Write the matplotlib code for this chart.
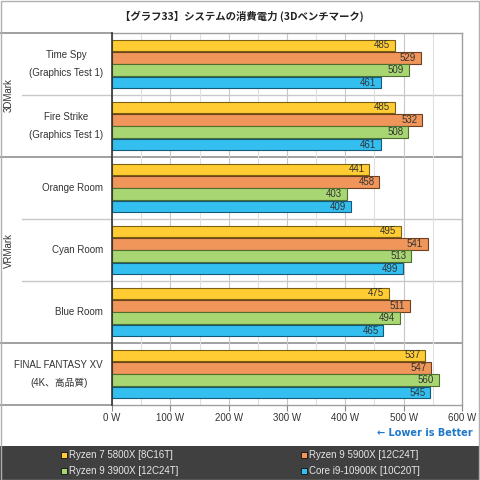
import matplotlib
matplotlib.use("Agg")
import matplotlib.pyplot as plt
from matplotlib.patches import Rectangle
from matplotlib.lines import Line2D
import matplotlib.transforms as mtransforms
import numpy as np

plt.rcParams['font.family'] = ['Liberation Sans', 'Noto Sans CJK JP', 'DejaVu Sans']

categories = ["Time Spy\n(Graphics Test 1)", "Fire Strike\n(Graphics Test 1)",
              "Orange Room", "Cyan Room", "Blue Room", "FINAL FANTASY XV\n(4K、高品質)"]
groups = ["3DMark", "VRMark", ""]
group_sizes = [2, 3, 1]
series_names = ["Ryzen 7 5800X [8C16T]", "Ryzen 9 5900X [12C24T]",
                "Ryzen 9 3900X [12C24T]", "Core i9-10900K [10C20T]"]
values = [
    [485, 485, 441, 495, 475, 537],
    [529, 532, 458, 541, 511, 547],
    [509, 508, 403, 513, 494, 560],
    [461, 461, 409, 499, 465, 545],
]
xticks = [0, 100, 200, 300, 400, 500, 600]
xticklabels = ["0 W", "100 W", "200 W", "300 W", "400 W", "500 W", "600 W"]

colors = ["#FFCC33", "#F0965A", "#A8D672", "#33BFF0"]
edges = ["#7a6010", "#6e3f20", "#4f6e30", "#145a78"]

W = 480
fig = plt.figure(figsize=(4.8, 4.8), dpi=100)
fig.patch.set_facecolor("white")

ax_left, ax_right, ax_top, ax_bot = 112, 462, 33, 405
ax = fig.add_axes([ax_left / W, 1 - ax_bot / W, (ax_right - ax_left) / W, (ax_bot - ax_top) / W])

n = len(categories)
bh = 0.2
offsets = [-0.3, -0.1, 0.1, 0.3]
y = np.arange(n)
for s in range(4):
    ax.barh(y + offsets[s], values[s], height=bh * 0.95, color=colors[s],
            edgecolor=edges[s], linewidth=0.8, zorder=3)
    for i, v in enumerate(values[s]):
        ax.text(v - 8, y[i] + offsets[s], str(v), ha="right", va="center",
                fontsize=7, color="#333333", zorder=4)

ax.set_ylim(n - 0.5, -0.5)
ax.set_xlim(0, 600)
ax.set_xticks(xticks)
ax.set_xticklabels(xticklabels, fontsize=7, color="#333333")
ax.set_xticks(np.arange(50, 600, 100), minor=True)
ax.grid(axis="x", which="major", color="#c8c8c8", linewidth=0.8, zorder=0)
ax.grid(axis="x", which="minor", color="#e0e0e0", linewidth=0.8, zorder=0)
ax.tick_params(axis="x", which="major", length=4, color="#888888", pad=1.5)
ax.tick_params(axis="x", which="minor", length=0)
ax.set_yticks([])
for sp in ["top", "right", "bottom"]:
    ax.spines[sp].set_color("#a0a0a0")
    ax.spines[sp].set_linewidth(1)
ax.spines["left"].set_color("#333333")
ax.spines["left"].set_linewidth(1.2)
ax.spines["left"].set_zorder(5)

# category separators and labels
trans = mtransforms.blended_transform_factory(fig.transFigure, ax.transData)
bounds = np.cumsum(group_sizes)
for k in range(1, n):
    if k in bounds:
        x0 = 0
        col = "#909090"
        lw = 1.2
    else:
        x0 = 22 / W
        col = "#c8c8c8"
        lw = 1
    ax.add_line(Line2D([x0, ax_right / W], [k - 0.5, k - 0.5], transform=trans,
                       color=col, linewidth=lw, clip_on=False, zorder=1))
ax.add_line(Line2D([0, ax_left / W], [-0.5, -0.5], transform=trans,
                   color="#909090", linewidth=1.2, clip_on=False))
ax.add_line(Line2D([0, ax_left / W], [n - 0.5, n - 0.5], transform=trans,
                   color="#909090", linewidth=1.2, clip_on=False))

for i, c in enumerate(categories):
    ax.text(103 / W, i, c, transform=trans, ha="right", va="center",
            multialignment="center", fontsize=7, color="#333333", linespacing=1.9)

start = 0
for g, sz in zip(groups, group_sizes):
    if g:
        ax.text(9 / W, start + (sz - 1) / 2, g, transform=trans, ha="center",
                va="center", rotation=90, fontsize=7, color="#333333")
    start += sz

fig.text(242 / W, 1 - 16 / W, "【グラフ33】システムの消費電力 (3Dベンチマーク)",
         ha="center", va="center", fontsize=7.5, fontweight="bold", color="#222222",
         family=['Noto Sans CJK JP', 'DejaVu Sans'])

fig.text(473 / W, 1 - 433 / W, "← Lower is Better", ha="right", va="center",
         fontsize=7, color="#1f78c8", fontweight="bold",
         family=['DejaVu Sans'])

# legend box
fig.patches.append(Rectangle((0, 0), 1, 34 / W, transform=fig.transFigure,
                             facecolor="#404040", edgecolor="none", zorder=0))
pos = [(64, 455), (304, 455), (64, 471), (304, 471)]
for s, (px, py) in enumerate(pos):
    fig.patches.append(Rectangle((px / W - 3 / W, 1 - py / W - 3 / W), 6 / W, 6 / W,
                                 transform=fig.transFigure, facecolor=colors[s],
                                 edgecolor="#111111", linewidth=0.6, zorder=2))
    fig.text((px + 5) / W, 1 - py / W, series_names[s], ha="left", va="center",
             fontsize=7, color="#e8e8e8")

# outer border
fig.patches.append(Rectangle((0.5 / W, 0.5 / W), 478 / W, 1 - 1 / W, transform=fig.transFigure,
                             facecolor="none", edgecolor="#b0b0b0", linewidth=1, zorder=3))

fig.savefig("out.png", dpi=100)
